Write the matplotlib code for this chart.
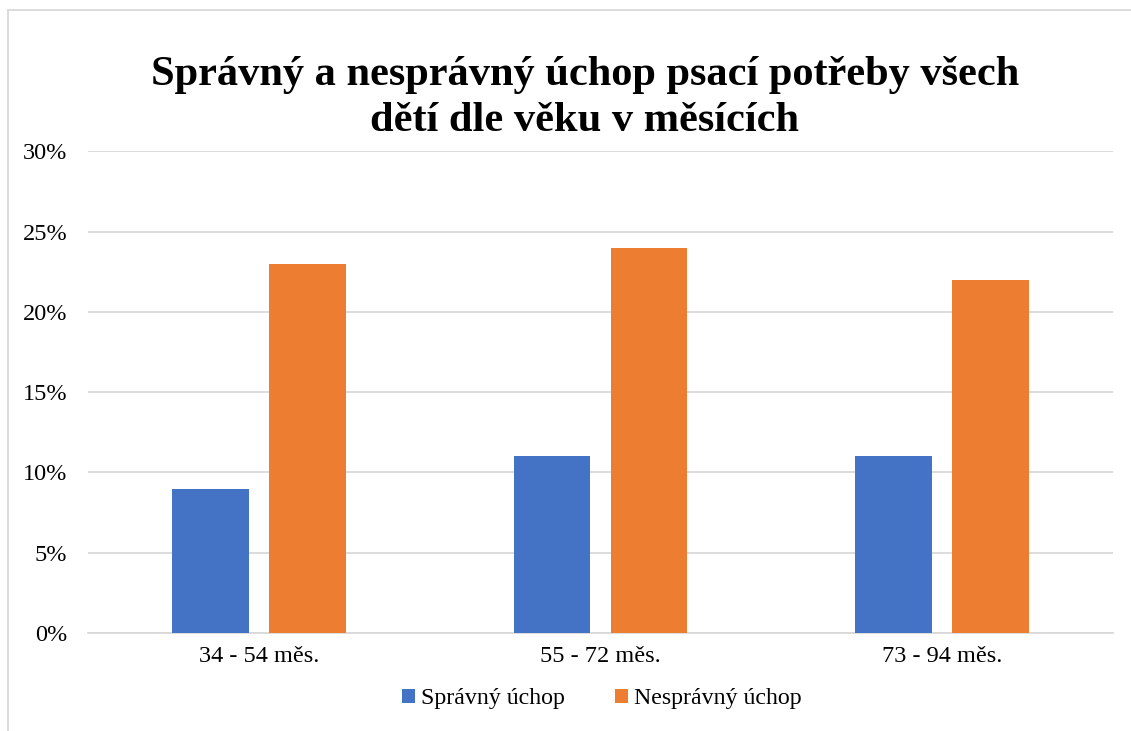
import numpy as np
import matplotlib.pyplot as plt
from matplotlib.lines import Line2D

# data
categories = ['34 - 54 měs.', '55 - 72 měs.', '73 - 94 měs.']
spravny = [9, 11, 11]
nespravny = [23, 24, 22]
series_names = ['Správný úchop', 'Nesprávný úchop']
yticks = [0, 5, 10, 15, 20, 25, 30]

plt.rcParams['font.family'] = ['Liberation Serif', 'DejaVu Serif']

fig = plt.figure(figsize=(11.31, 7.31), dpi=100)
ax = fig.add_axes([0.0778, 0.134, 0.9062, 0.659])

x = np.arange(len(categories))
w = 0.225
off = 0.142
ax.bar(x - off, spravny, w, color='#4472C4', label=series_names[0], zorder=3)
ax.bar(x + off, nespravny, w, color='#ED7D31', label=series_names[1], zorder=3)

ax.set_xlim(-0.5, len(categories) - 0.5)
ax.set_ylim(0, 30)
ax.set_yticks(yticks)
ax.set_yticklabels([f'{t}%' for t in yticks], fontsize=17.5)
ax.set_xticks(x)
ax.set_xticklabels(categories, fontsize=17.5)
ax.tick_params(axis='both', length=0, pad=9)
ax.tick_params(axis='y', pad=15)
ax.yaxis.grid(True, color='#D9D9D9', linewidth=1.3, zorder=0)
for s in ['top', 'right', 'left']:
    ax.spines[s].set_visible(False)
ax.spines['bottom'].set_color('#D9D9D9')
ax.spines['bottom'].set_linewidth(1.3)

fig.text(0.517, 0.866, 'Správný a nesprávný úchop psací potřeby všech\ndětí dle věku v měsících',
         ha='center', va='center', fontsize=30.5, fontweight='bold', linespacing=1.25)

fig.legend(loc='center', bbox_to_anchor=(0.532, 0.044), ncol=2, frameon=False,
           fontsize=17.2, handlelength=0.55, handleheight=0.55, handletextpad=0.25,
           columnspacing=2.1)

# light outer border (left and top edges visible)
fig.add_artist(Line2D([8 / 1131, 8 / 1131], [0, 1 - 10 / 731], color='#D9D9D9', lw=1.3))
fig.add_artist(Line2D([8 / 1131, 1], [1 - 10 / 731, 1 - 10 / 731], color='#D9D9D9', lw=1.3))

fig.savefig('out.png', dpi=100)
